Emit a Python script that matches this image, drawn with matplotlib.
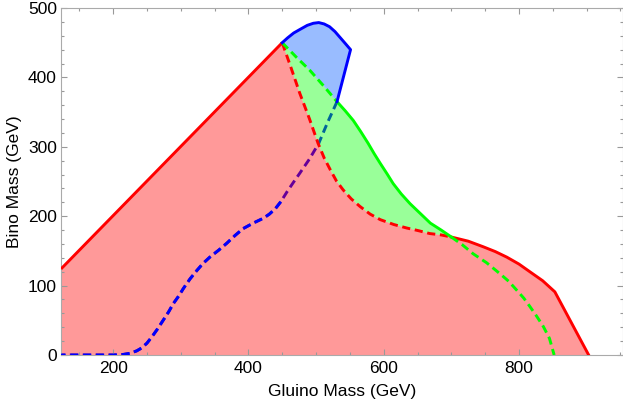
import matplotlib
matplotlib.use('Agg')
import matplotlib.pyplot as plt
from matplotlib.ticker import MultipleLocator
import numpy as np

# boundary curves (GeV)
red_left_x = [123, 450]
red_left_y = [124, 450]

red_dash_x = [450, 463, 476, 490, 503, 512, 521, 530, 540, 552, 565, 580, 595, 615, 634, 652, 668, 685, 700]
red_dash_y = [450, 414, 377, 341, 305, 284, 267, 251, 238, 225, 214, 203, 195, 188, 183, 179, 175, 173, 170]

red_right_x = [700, 725, 747, 765, 782, 800, 816, 835, 853, 903]
red_right_y = [170, 164, 156, 149, 141, 131, 120, 107, 91, 0]

green_top_x = [450, 471, 491, 511, 531]
green_top_y = [450, 429, 410, 388, 365]

green_solid_x = [531, 543, 555, 566, 577, 586, 595, 605, 614, 626, 639, 654, 669, 685, 700]
green_solid_y = [365, 352, 338, 322, 305, 290, 276, 261, 247, 232, 218, 204, 190, 180, 170]

green_dash_x = [700, 716, 732, 752, 772, 785, 797, 807, 816, 826, 836, 845, 852]
green_dash_y = [170, 159, 146, 133, 117, 106, 93, 82, 70, 56, 41, 24, 0]

blue_top_x = [450, 458, 467, 476, 487, 496, 504, 512, 520, 528, 536, 544, 551, 531]
blue_top_y = [450, 457, 464, 469, 475, 478, 479, 477, 473, 466, 457, 448, 440, 365]

blue_dash_x = [531, 517, 504, 490, 476, 466, 457, 448, 440, 431, 422, 407, 392, 380, 368, 356, 343, 333, 324, 314, 304, 297, 289, 282, 274, 266, 258, 250, 242, 235, 225, 215, 200, 123]
blue_dash_y = [365, 335, 305, 282, 262, 248, 235, 221, 211, 203, 197, 190, 182, 172, 161, 151, 141, 132, 122, 110, 96, 85, 74, 62, 50, 38, 27, 17, 10, 6, 2.4, 0.8, 0, 0]

plt.rcParams['font.family'] = ['Liberation Sans', 'DejaVu Sans']
plt.rcParams['font.size'] = 12.5

fig = plt.figure(figsize=(6.23, 4.05), dpi=100)
ax = fig.add_axes([61/623, 1-355/405, (622.5-61)/623, (355-8)/405])

# filled regions (semi transparent, like the original)
rx = red_left_x + red_dash_x[1:] + red_right_x[1:] + [red_left_x[0]]
ry = red_left_y + red_dash_y[1:] + red_right_y[1:] + [0]
ax.fill(rx, ry, color=(1, 0, 0), alpha=0.4, lw=0, zorder=1)

gx = green_top_x + green_solid_x[1:] + red_dash_x[::-1][1:]
gy = green_top_y + green_solid_y[1:] + red_dash_y[::-1][1:]
ax.fill(gx, gy, color=(0, 1, 0), alpha=0.4, lw=0, zorder=1)

bx = blue_top_x + green_top_x[::-1][1:]
by = blue_top_y + green_top_y[::-1][1:]
ax.fill(bx, by, color=(0, 0.35, 1), alpha=0.4, lw=0, zorder=1)

lw = 2.1
dash = (0, (2.8, 1.6))
sty = dict(lw=lw, solid_joinstyle='round', dash_joinstyle='round')

# blue dashed line: under the fills past x=450, on top before
ax.plot(blue_dash_x, blue_dash_y, color='#0000ff', ls=dash, zorder=0.5, **sty)
bdx = np.array(blue_dash_x)
bdy = np.array(blue_dash_y)
m = bdx <= 450
ax.plot(bdx[m], bdy[m], color='#0000ff', ls=dash, zorder=3, **sty)

ax.plot(red_left_x, red_left_y, color='#ff0000', zorder=3, solid_capstyle='butt', **sty)
ax.plot(red_dash_x, red_dash_y, color='#ff0000', ls=dash, zorder=3, **sty)
ax.plot(red_right_x, red_right_y, color='#ff0000', zorder=3, **sty)
ax.plot(green_top_x, green_top_y, color='#00ff00', ls=dash, zorder=3, **sty)
ax.plot(green_solid_x, green_solid_y, color='#00ff00', zorder=3, **sty)
ax.plot(green_dash_x, green_dash_y, color='#00ff00', ls=dash, zorder=3, **sty)
ax.plot(blue_top_x, blue_top_y, color='#0000ff', zorder=3, **sty)

ax.set_xlim(123, 953)
ax.set_ylim(0, 500)

ax.xaxis.set_major_locator(MultipleLocator(200))
ax.xaxis.set_minor_locator(MultipleLocator(50))
ax.yaxis.set_major_locator(MultipleLocator(100))
ax.yaxis.set_minor_locator(MultipleLocator(20))
ax.tick_params(which='both', direction='in', top=True, right=True, color='#999999', width=0.8)
ax.tick_params(which='major', length=4.5)
ax.tick_params(which='minor', length=2.5)
ax.tick_params(axis='x', pad=4)
ax.tick_params(axis='y', pad=3)
for s in ax.spines.values():
    s.set_color('#aaaaaa')
    s.set_linewidth(0.8)

ax.set_xlabel('Gluino Mass (GeV)', labelpad=6)
ax.set_ylabel('Bino Mass (GeV)', labelpad=4)

fig.savefig('out.png', dpi=100)
